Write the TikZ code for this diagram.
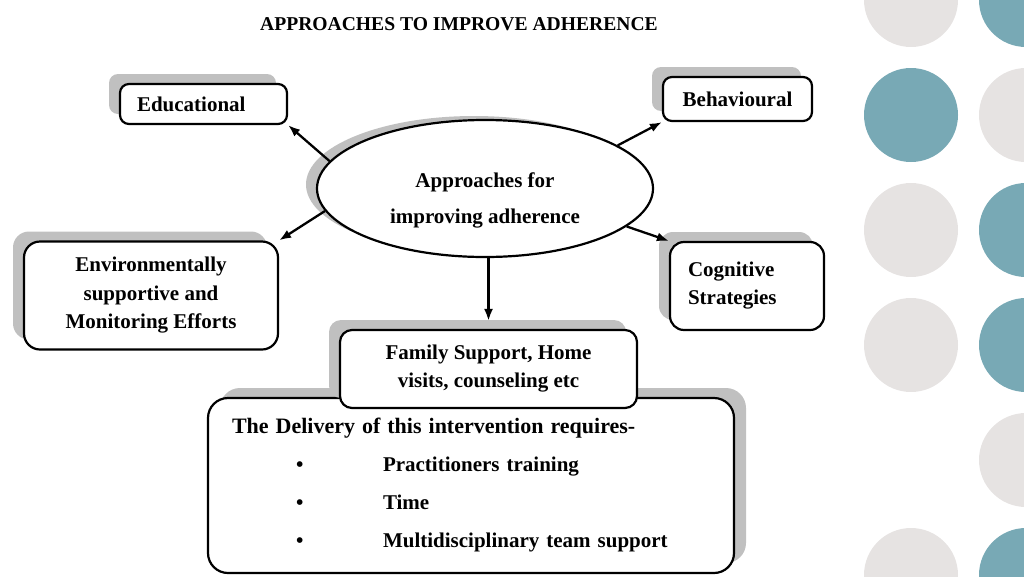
\documentclass[tikz,border=0pt]{standalone}
\usepackage{fontspec}
\setmainfont{Liberation Serif}
\usetikzlibrary{shapes.geometric,arrows.meta,shadows}
\definecolor{shadowgray}{RGB}{192,192,192}
\definecolor{dotteal}{RGB}{120,169,181}
\definecolor{dotgray}{RGB}{230,227,226}
\tikzset{
  box/.style={draw, line width=2.2pt, rounded corners=9pt, fill=white, align=center,
    inner sep=0pt, font=\bfseries\fontsize{21}{28}\selectfont},
  shadowleft/.style={general shadow={fill=shadowgray, shadow xshift=-11pt, shadow yshift=10pt}},
  shadowright/.style={general shadow={fill=shadowgray, shadow xshift=12pt, shadow yshift=10pt}},
  hub/.style={ellipse, draw, line width=2.2pt, fill=white, minimum width=336pt,
    minimum height=137pt, inner sep=0pt,
    general shadow={fill=shadowgray, shadow xshift=-11pt, shadow yshift=4pt}},
}
\begin{document}
\begin{tikzpicture}[x=1pt,y=-1pt,
    link/.style={-{Latex[length=12pt,width=9pt]}, line width=2.3pt}]
  \clip (0,0) rectangle (1024,576);
  % dots down the right side
  \foreach \y/\cl/\cr in {0/dotgray/dotteal, 115/dotteal/dotgray, 230/dotgray/dotteal,
      345/dotgray/dotteal, 575/dotgray/dotteal}
    {\fill[\cl] (911,\y) circle (47pt); \fill[\cr] (1026,\y) circle (47pt);}
  \fill[dotgray] (1026,460) circle (47pt);

  \node[font=\bfseries\fontsize{19.6}{24}\selectfont] (title) at (459,24) {APPROACHES TO IMPROVE ADHERENCE};

  \node[hub] (hub) at (485,188.5) {};
  \node[font=\bfseries\fontsize{21}{36}\selectfont, align=center] (hubtext) at (485,200)
    {Approaches for\\improving adherence};

  \node[box, shadowleft, text width=133pt, inner xsep=17pt, align=left, minimum height=40pt] (edu) at (203.5,104) {Educational};
  \node[box, shadowleft, minimum width=149pt, minimum height=44pt] (beh) at (737.5,99) {Behavioural};
  \node[box, shadowleft, minimum width=254pt, minimum height=108pt, rounded corners=16pt,
    font=\bfseries\fontsize{21}{28.5}\selectfont] (env) at (151,295.5)
    {Environmentally\\supportive and\\Monitoring Efforts};
  \node[box, shadowleft, text width=118pt, inner xsep=18pt, align=left, minimum height=88pt,
    rounded corners=14pt] (cog) at (747,286) {Cognitive\\Strategies};

  % delivery box sits under the family box
  \node[box, shadowright, text width=478pt, inner xsep=24pt, align=left, minimum height=175pt,
    rounded corners=20pt, font=\bfseries\fontsize{21}{38}\selectfont] (need) at (471,485.5)
    {{\fontsize{22}{38}\selectfont The Delivery of this intervention requires-}\\
     \hspace*{64pt}\makebox[87pt][l]{\textbullet}Practitioners training\\
     \hspace*{64pt}\makebox[87pt][l]{\textbullet}Time\\
     \hspace*{64pt}\makebox[87pt][l]{\textbullet}Multidisciplinary team support};
  \node[box, shadowleft, minimum width=297pt, minimum height=78pt, rounded corners=12pt] (fam) at (488.5,369)
    {Family Support, Home\\visits, counseling etc};

  \draw[link] (hub.170) -- (edu.south east);
  \draw[link] (hub.188) -- (env.north east);
  \draw[link] (hub.18) -- (beh.south west);
  \draw[link] (hub.345) -- (cog.north west);
  \draw[link, shorten >=8pt] (hub.south -| fam.north) -- (fam.north);
\end{tikzpicture}
\end{document}
